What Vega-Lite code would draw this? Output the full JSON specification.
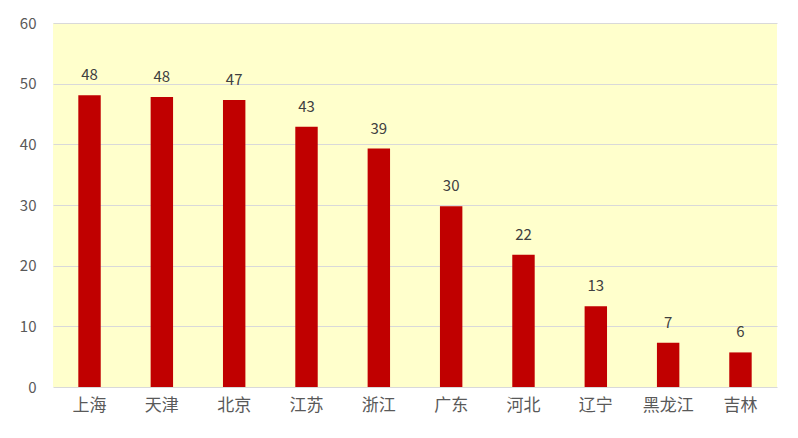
{
  "$schema": "https://vega.github.io/schema/vega-lite/v6.json",
  "width": 724,
  "height": 364,
  "autosize": "none",
  "padding": {"left": 53, "top": 23, "right": 21, "bottom": 51},
  "background": "white",
  "config": {
    "font": "Noto Sans CJK SC",
    "view": {"fill": "#FFFFCC", "stroke": null},
    "axis": {
      "labelColor": "#595959",
      "labelFontSize": 15,
      "domain": false,
      "ticks": false,
      "title": null
    }
  },
  "data": {
    "values": [
      {"region": "上海", "value": 48.1},
      {"region": "天津", "value": 47.8},
      {"region": "北京", "value": 47.3},
      {"region": "江苏", "value": 42.9},
      {"region": "浙江", "value": 39.3},
      {"region": "广东", "value": 29.8},
      {"region": "河北", "value": 21.8},
      {"region": "辽宁", "value": 13.3},
      {"region": "黑龙江", "value": 7.3},
      {"region": "吉林", "value": 5.7}
    ]
  },
  "encoding": {
    "x": {
      "field": "region",
      "type": "nominal",
      "sort": null,
      "scale": {"paddingInner": 0.69, "paddingOuter": 0.35},
      "axis": {"labelAngle": 0, "labelPadding": 10, "grid": false, "labelFontSize": 17}
    },
    "y": {
      "field": "value",
      "type": "quantitative",
      "scale": {"domain": [0, 60]},
      "axis": {
        "values": [0, 10, 20, 30, 40, 50, 60],
        "grid": true,
        "gridColor": "#D9D9D9",
        "gridWidth": 1.2,
        "labelPadding": 17
      }
    }
  },
  "layer": [
    {"mark": {"type": "bar", "color": "#C00000"}},
    {
      "mark": {"type": "text", "dy": -20, "color": "#404040", "fontSize": 15},
      "encoding": {"text": {"field": "value", "type": "quantitative", "format": ".0f"}}
    }
  ]
}
